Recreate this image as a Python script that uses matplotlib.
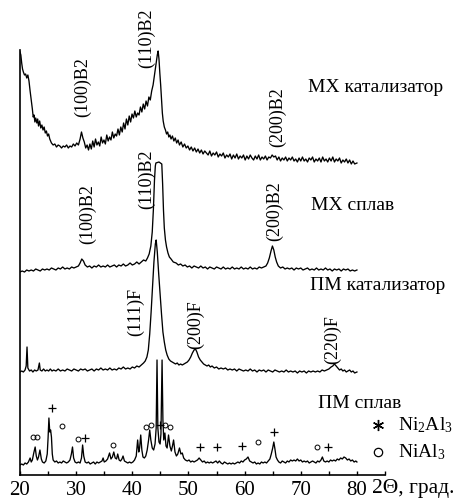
import numpy as np
import matplotlib.pyplot as plt

plt.rcParams['font.family'] = ['Liberation Serif', 'DejaVu Serif']
plt.rcParams['mathtext.fontset'] = 'custom'
plt.rcParams['mathtext.rm'] = 'Liberation Serif'
plt.rcParams['mathtext.it'] = 'Liberation Serif:italic'

# (2theta, intensity) pairs, intensity in arbitrary units above each pattern's own baseline
mx_catalyst = [
    (20.0, 111), (20.15, 108), (20.3, 100), (20.45, 94), (20.6, 91), (20.8, 88), (21.0, 89), (21.2, 85),
    (21.4, 88), (21.6, 82), (21.8, 72), (22.0, 63), (22.2, 54), (22.35, 46), (22.5, 48), (22.65, 41),
    (22.8, 45), (23.0, 40), (23.15, 44), (23.3, 37), (23.5, 42), (23.7, 35), (23.9, 38), (24.1, 33),
    (24.3, 36), (24.5, 30), (24.7, 32), (24.9, 27), (25.1, 29), (25.3, 24), (25.6, 20), (25.9, 18),
    (26.2, 19), (26.5, 16), (26.8, 18), (27.1, 17), (27.4, 15), (27.7, 17), (28.0, 16), (28.3, 18),
    (28.6, 15), (28.9, 17), (29.2, 16), (29.5, 19), (29.8, 17), (30.1, 20), (30.4, 18), (30.7, 24),
    (30.95, 31), (31.2, 25), (31.45, 21), (31.7, 15), (31.95, 18), (32.2, 13), (32.45, 19), (32.7, 14),
    (32.95, 22), (33.2, 16), (33.45, 24), (33.7, 18), (33.95, 21), (34.2, 17), (34.45, 26), (34.7, 20),
    (34.95, 23), (35.2, 19), (35.45, 28), (35.7, 22), (35.95, 26), (36.2, 23), (36.45, 31), (36.7, 25),
    (36.95, 29), (37.2, 27), (37.45, 34), (37.7, 28), (37.95, 36), (38.2, 31), (38.45, 40), (38.7, 34),
    (38.95, 44), (39.2, 38), (39.45, 47), (39.7, 41), (39.95, 49), (40.2, 45), (40.45, 52), (40.7, 46),
    (40.95, 50), (41.2, 48), (41.45, 56), (41.7, 51), (41.95, 59), (42.2, 54), (42.45, 62), (42.7, 57),
    (42.95, 66), (43.2, 63), (43.45, 72), (43.7, 78), (43.95, 88), (44.2, 98), (44.45, 108), (44.6, 112),
    (44.75, 104), (44.9, 90), (45.05, 78), (45.2, 64), (45.35, 50), (45.5, 42), (45.7, 36), (45.9, 33),
    (46.1, 29), (46.3, 31), (46.5, 26), (46.7, 28), (46.9, 24), (47.15, 27), (47.4, 22), (47.65, 25),
    (47.9, 20), (48.15, 23), (48.4, 18), (48.7, 21), (49.0, 16), (49.3, 19), (49.6, 15), (49.9, 17),
    (50.2, 13), (50.5, 16), (50.8, 12), (51.1, 15), (51.4, 11), (51.7, 14), (52.0, 10), (52.3, 13),
    (52.6, 9), (52.9, 12), (53.2, 10), (53.5, 8), (53.8, 12), (54.1, 7), (54.4, 10), (54.7, 8),
    (55.0, 11), (55.3, 6), (55.6, 9), (55.9, 7), (56.2, 10), (56.5, 5), (56.8, 8), (57.1, 6),
    (57.4, 9), (57.7, 4), (58.0, 8), (58.3, 5), (58.6, 9), (58.9, 4), (59.2, 7), (59.5, 5),
    (59.8, 8), (60.1, 3), (60.4, 7), (60.7, 4), (61.0, 8), (61.3, 5), (61.6, 3), (61.9, 7),
    (62.2, 4), (62.5, 8), (62.8, 3), (63.1, 6), (63.4, 4), (63.7, 7), (64.0, 3), (64.3, 6),
    (64.6, 5), (64.9, 8), (65.2, 6), (65.5, 7), (65.8, 3), (66.1, 6), (66.4, 2), (66.7, 5),
    (67.0, 3), (67.3, 6), (67.6, 2), (67.9, 5), (68.2, 3), (68.5, 6), (68.8, 2), (69.1, 4),
    (69.4, 1), (69.7, 5), (70.0, 2), (70.3, 6), (70.6, 2), (70.9, 4), (71.2, 1), (71.5, 5),
    (71.8, 3), (72.1, 6), (72.4, 1), (72.7, 4), (73.0, 2), (73.3, 5), (73.6, 1), (73.9, 6),
    (74.2, 2), (74.5, 4), (74.8, 1), (75.1, 5), (75.4, 2), (75.7, 6), (76.0, 1), (76.3, 4),
    (76.6, 2), (76.9, 5), (77.2, 0), (77.5, 3), (77.8, 1), (78.1, 4), (78.4, 0), (78.7, 3),
    (79.0, -1), (79.3, 2), (79.6, -1), (80.0, 0),
]

mx_alloy = [
    (20.0, 0), (20.4, 1), (20.8, 0), (21.2, 2), (21.6, 1), (22.0, 2), (22.4, 1), (22.8, 3),
    (23.2, 2), (23.6, 1), (24.0, 3), (24.4, 2), (24.8, 3), (25.2, 2), (25.6, 4), (26.0, 3),
    (26.4, 2), (26.8, 4), (27.2, 3), (27.6, 5), (28.0, 3), (28.4, 4), (28.8, 3), (29.2, 5),
    (29.6, 4), (30.0, 5), (30.4, 6), (30.7, 9), (31.0, 13), (31.3, 11), (31.6, 7), (32.0, 5),
    (32.4, 6), (32.8, 4), (33.2, 6), (33.6, 5), (34.0, 7), (34.4, 5), (34.8, 6), (35.2, 5),
    (35.6, 7), (36.0, 5), (36.4, 6), (36.8, 7), (37.2, 5), (37.6, 7), (38.0, 6), (38.4, 8),
    (38.8, 6), (39.2, 7), (39.6, 9), (40.0, 7), (40.4, 8), (40.8, 10), (41.2, 8), (41.6, 10),
    (42.0, 12), (42.4, 11), (42.7, 14), (43.0, 18), (43.3, 26), (43.55, 40), (43.75, 62), (43.95, 92),
    (44.1, 106), (44.2, 109), (44.75, 110), (45.25, 108), (45.4, 88), (45.55, 62), (45.7, 44), (45.9, 32),
    (46.1, 25), (46.35, 19), (46.6, 15), (46.9, 13), (47.3, 10), (47.8, 9), (48.2, 7), (48.6, 8),
    (49.0, 6), (49.4, 7), (49.8, 5), (50.2, 6), (50.6, 4), (51.0, 6), (51.4, 5), (51.8, 4),
    (52.2, 6), (52.6, 4), (53.0, 5), (53.4, 3), (53.8, 5), (54.2, 4), (54.6, 3), (55.0, 5),
    (55.4, 4), (55.8, 3), (56.2, 5), (56.6, 3), (57.0, 4), (57.4, 3), (57.8, 5), (58.2, 3),
    (58.6, 4), (59.0, 3), (59.4, 5), (59.8, 3), (60.2, 4), (60.6, 3), (61.0, 5), (61.4, 3),
    (61.8, 4), (62.2, 3), (62.6, 5), (63.0, 4), (63.4, 5), (63.8, 6), (64.1, 9), (64.4, 14),
    (64.7, 21), (64.95, 26), (65.2, 22), (65.45, 15), (65.7, 10), (66.0, 6), (66.4, 4), (66.8, 5),
    (67.2, 3), (67.6, 4), (68.0, 3), (68.4, 4), (68.8, 2), (69.2, 4), (69.6, 3), (70.0, 4),
    (70.4, 2), (70.8, 3), (71.2, 4), (71.6, 2), (72.0, 3), (72.4, 2), (72.8, 4), (73.2, 2),
    (73.6, 3), (74.0, 2), (74.4, 4), (74.8, 2), (75.2, 3), (75.6, 1), (76.0, 3), (76.4, 2),
    (76.8, 3), (77.2, 1), (77.6, 3), (78.0, 2), (78.4, 3), (78.8, 1), (79.2, 2), (79.6, 1),
    (80.0, 2),
]

pm_catalyst = [
    (20.0, 2), (20.3, 3), (20.6, 2), (20.9, 4), (21.1, 8), (21.25, 27), (21.4, 6), (21.7, 3),
    (22.0, 4), (22.3, 2), (22.6, 4), (22.9, 3), (23.2, 4), (23.45, 11), (23.6, 4), (23.9, 3),
    (24.2, 5), (24.5, 3), (24.8, 4), (25.1, 3), (25.4, 5), (25.7, 3), (26.0, 4), (26.4, 3),
    (26.8, 5), (27.2, 3), (27.6, 4), (28.0, 3), (28.4, 5), (28.8, 4), (29.2, 3), (29.6, 5),
    (30.0, 4), (30.4, 3), (30.8, 5), (31.2, 4), (31.6, 5), (32.0, 3), (32.4, 4), (32.8, 5),
    (33.2, 3), (33.6, 5), (34.0, 4), (34.4, 6), (34.8, 4), (35.2, 5), (35.6, 4), (36.0, 6),
    (36.4, 4), (36.8, 5), (37.2, 4), (37.6, 6), (38.0, 5), (38.4, 7), (38.8, 5), (39.2, 6),
    (39.6, 5), (40.0, 7), (40.4, 6), (40.8, 8), (41.2, 7), (41.6, 9), (42.0, 11), (42.3, 13),
    (42.6, 17), (42.85, 24), (43.1, 40), (43.35, 62), (43.6, 88), (43.85, 112), (44.1, 130), (44.25, 134),
    (44.45, 122), (44.7, 100), (44.95, 80), (45.2, 60), (45.45, 42), (45.7, 32), (45.95, 24), (46.2, 19),
    (46.5, 15), (46.8, 13), (47.1, 12), (47.4, 11), (47.7, 10), (48.0, 11), (48.3, 9), (48.6, 10),
    (48.9, 9), (49.2, 10), (49.5, 11), (49.8, 12), (50.1, 14), (50.4, 17), (50.7, 21), (51.0, 24),
    (51.25, 25), (51.5, 22), (51.8, 17), (52.1, 14), (52.4, 12), (52.7, 10), (53.0, 9), (53.3, 8),
    (53.6, 9), (53.9, 7), (54.2, 8), (54.6, 6), (55.0, 7), (55.4, 5), (55.8, 6), (56.2, 5),
    (56.6, 6), (57.0, 4), (57.4, 5), (57.8, 4), (58.2, 5), (58.6, 3), (59.0, 5), (59.4, 4),
    (59.8, 3), (60.2, 4), (60.6, 3), (61.0, 5), (61.4, 3), (61.8, 4), (62.2, 2), (62.6, 4),
    (63.0, 3), (63.4, 4), (63.8, 2), (64.2, 4), (64.6, 3), (65.0, 2), (65.4, 4), (65.8, 3),
    (66.2, 2), (66.6, 3), (67.0, 2), (67.4, 4), (67.8, 2), (68.2, 3), (68.6, 2), (69.0, 3),
    (69.4, 1), (69.8, 3), (70.2, 2), (70.6, 3), (71.0, 1), (71.4, 3), (71.8, 2), (72.2, 3),
    (72.6, 2), (73.0, 3), (73.4, 2), (73.8, 4), (74.2, 3), (74.6, 4), (75.0, 5), (75.4, 7),
    (75.7, 8), (76.0, 10), (76.3, 8), (76.6, 6), (76.9, 4), (77.2, 5), (77.5, 3), (77.8, 4),
    (78.1, 2), (78.4, 3), (78.7, 4), (79.0, 2), (79.3, 3), (79.6, 1), (80.0, 2),
]

pm_alloy = [
    (20.0, 3), (20.3, 4), (20.6, 3), (20.9, 5), (21.2, 4), (21.5, 6), (21.8, 10), (22.0, 6),
    (22.2, 8), (22.45, 15), (22.7, 21), (22.9, 12), (23.1, 8), (23.3, 11), (23.55, 18), (23.8, 9),
    (24.0, 6), (24.3, 5), (24.6, 7), (24.85, 14), (25.0, 30), (25.15, 50), (25.3, 36), (25.45, 38),
    (25.6, 31), (25.75, 14), (25.9, 8), (26.2, 6), (26.5, 7), (26.8, 5), (27.1, 6), (27.4, 5),
    (27.7, 7), (28.0, 6), (28.3, 5), (28.6, 6), (28.9, 8), (29.15, 14), (29.35, 21), (29.55, 10),
    (29.8, 6), (30.1, 5), (30.4, 6), (30.7, 5), (30.95, 10), (31.15, 23), (31.35, 12), (31.6, 6),
    (31.9, 5), (32.2, 6), (32.5, 4), (32.8, 5), (33.1, 6), (33.4, 4), (33.7, 6), (34.0, 5),
    (34.3, 6), (34.6, 7), (34.8, 10), (35.0, 6), (35.3, 7), (35.6, 9), (35.95, 15), (36.2, 9),
    (36.45, 11), (36.7, 16), (36.95, 10), (37.2, 9), (37.4, 14), (37.65, 8), (37.9, 7), (38.15, 9),
    (38.35, 12), (38.6, 7), (38.9, 6), (39.2, 5), (39.5, 6), (39.8, 5), (40.1, 6), (40.4, 8),
    (40.7, 12), (40.95, 28), (41.15, 16), (41.3, 20), (41.5, 33), (41.7, 18), (41.9, 11), (42.15, 10),
    (42.4, 12), (42.65, 18), (42.9, 28), (43.1, 38), (43.3, 28), (43.55, 20), (43.8, 18), (44.05, 24),
    (44.25, 40), (44.4, 108), (44.55, 40), (44.75, 26), (44.95, 24), (45.1, 34), (45.3, 108), (45.45, 48),
    (45.6, 28), (45.8, 35), (46.0, 22), (46.2, 20), (46.45, 33), (46.7, 22), (46.95, 17), (47.15, 22),
    (47.35, 28), (47.6, 16), (47.85, 12), (48.1, 14), (48.4, 20), (48.65, 14), (48.9, 15), (49.15, 10),
    (49.45, 8), (49.8, 7), (50.1, 8), (50.4, 6), (50.7, 7), (51.0, 6), (51.3, 7), (51.6, 8),
    (51.9, 10), (52.2, 8), (52.5, 6), (52.8, 7), (53.1, 5), (53.4, 6), (53.7, 5), (54.0, 6),
    (54.3, 5), (54.6, 6), (54.9, 7), (55.2, 5), (55.5, 7), (55.8, 5), (56.1, 4), (56.4, 6),
    (56.7, 5), (57.0, 4), (57.3, 5), (57.6, 4), (57.9, 5), (58.2, 4), (58.5, 5), (58.8, 6),
    (59.1, 5), (59.4, 7), (59.7, 6), (60.0, 8), (60.3, 9), (60.6, 11), (60.9, 7), (61.2, 6),
    (61.5, 5), (61.8, 6), (62.1, 4), (62.4, 5), (62.7, 4), (63.0, 6), (63.3, 5), (63.6, 6),
    (63.9, 5), (64.2, 7), (64.5, 9), (64.75, 14), (65.0, 20), (65.2, 26), (65.4, 19), (65.6, 11),
    (65.85, 8), (66.1, 6), (66.4, 5), (66.7, 7), (67.0, 6), (67.3, 5), (67.6, 7), (67.9, 6),
    (68.2, 8), (68.5, 7), (68.8, 8), (69.1, 7), (69.4, 9), (69.7, 7), (70.0, 8), (70.3, 6),
    (70.6, 7), (70.9, 6), (71.2, 7), (71.5, 5), (71.8, 6), (72.1, 7), (72.4, 6), (72.7, 5),
    (73.0, 7), (73.3, 6), (73.6, 8), (73.85, 11), (74.1, 7), (74.4, 6), (74.7, 7), (75.0, 6),
    (75.3, 8), (75.6, 7), (75.9, 8), (76.2, 7), (76.5, 9), (76.8, 8), (77.1, 10), (77.4, 9),
    (77.7, 11), (78.0, 10), (78.3, 8), (78.6, 9), (78.9, 7), (79.2, 8), (79.5, 6), (79.8, 7),
    (80.0, 6),
]

# phase reflections marked on the ПМ alloy pattern
ni2al3_peaks = [25.7, 31.6, 44.9, 52.0, 55.1, 59.5, 65.2, 74.8]
nial3_peaks = [22.3, 23.1, 27.5, 30.3, 36.6, 42.4, 43.3, 45.9, 46.7, 62.4, 72.9]

pattern_names = ['MX катализатор', 'MX сплав', 'ПМ катализатор', 'ПМ сплав']

fig = plt.figure(figsize=(4.58, 5.03), dpi=100)
ax = fig.add_axes([20 / 458, 28 / 503, 365 / 458, 425 / 503])

patterns = [(mx_catalyst, 312), (mx_alloy, 203), (pm_catalyst, 101), (pm_alloy, 7)]
for pattern, shift in patterns:
    tt, counts = np.array(pattern, dtype=float).T
    ax.plot(tt, counts + shift, color='black', lw=0.95)

# phase markers above the alloy peaks
ni2al3_levels = [67, 37, 50, 28, 28, 29, 43, 28]
nial3_levels = [38, 38, 49, 36, 30, 48, 50, 50, 48, 33, 28]
ax.plot(ni2al3_peaks, ni2al3_levels, ls='none', marker='+', ms=5.5, mew=0.9, color='black')
ax.plot(nial3_peaks, nial3_levels, ls='none', marker='o', ms=3.5, mfc='none', mew=0.7, color='black')

# reflection indices
hkl = [
    ('(100)B2', 31.2, 388), ('(110)B2', 42.6, 437), ('(200)B2', 65.9, 358),
    ('(100)B2', 32.1, 261), ('(110)B2', 42.6, 296), ('(200)B2', 65.4, 264),
    ('(111)F', 40.5, 163), ('(200)F', 51.2, 150), ('(220)F', 75.7, 135),
]
for text, x, y in hkl:
    ax.text(x, y, text, rotation=90, ha='center', va='center', fontsize=13)

# pattern names
for name, x, y in zip(pattern_names, [83.4, 79.3, 83.7, 80.5], [388, 270, 190, 72]):
    ax.text(x, y, name, ha='center', va='center', fontsize=14, clip_on=False)

# key for the phase markers
ax.plot([83.8], [50], marker=(6, 2, 0), ms=8, mew=1.0, color='black', clip_on=False)
ax.plot([83.8], [23], marker='o', ms=6, mfc='none', mew=0.9, color='black', clip_on=False)
ax.text(87.3, 50, r'Ni$_2$Al$_3$', ha='left', va='center', fontsize=14, clip_on=False)
ax.text(87.3, 23, r'NiAl$_3$', ha='left', va='center', fontsize=14, clip_on=False)

ax.set_xlim(20, 85)
ax.set_ylim(0, 425)
ax.set_xticks(range(20, 81, 10))
ax.set_xticks(range(25, 86, 10), minor=True)
ax.set_yticks([])
ax.tick_params(axis='x', which='both', direction='in', length=3, width=1)
ax.tick_params(axis='x', which='major', labelsize=15, pad=4)
ax.text(82.75, -14, '2Θ, град.', ha='left', va='center', fontsize=15.5, clip_on=False)

for side in ['top', 'right']:
    ax.spines[side].set_visible(False)
for side in ['left', 'bottom']:
    ax.spines[side].set_linewidth(1.2)

fig.savefig('out.png', dpi=100)
